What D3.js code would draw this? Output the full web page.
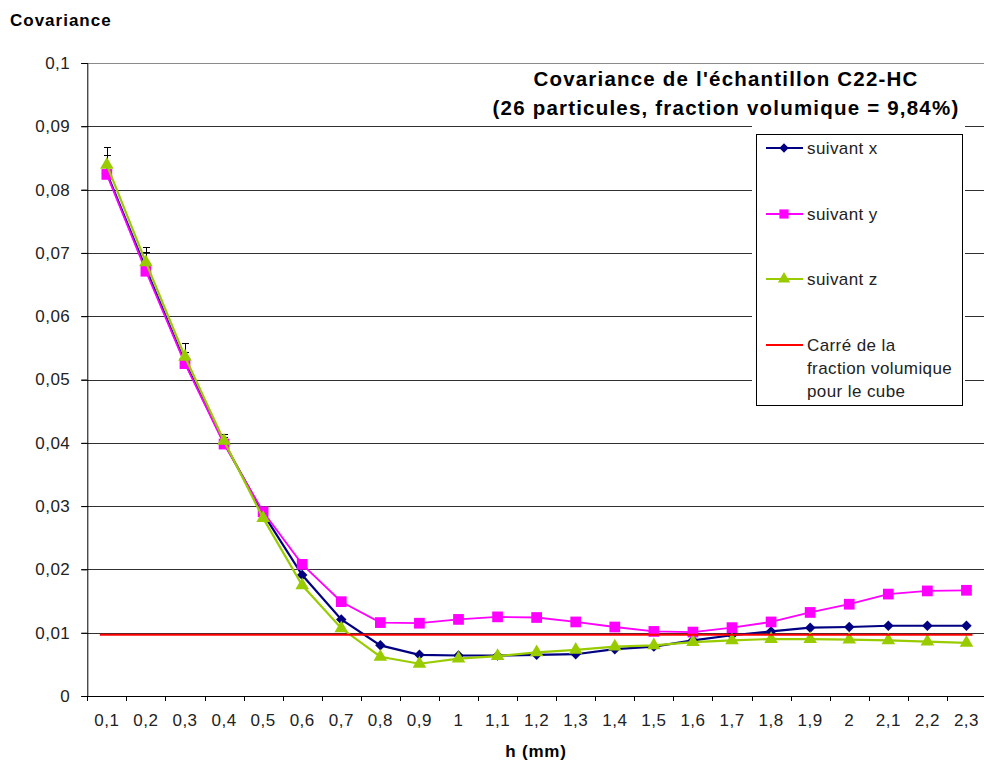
<!DOCTYPE html>
<html>
<head>
<meta charset="utf-8">
<script src="https://cdn.jsdelivr.net/npm/d3@7"></script>
<style>
  html, body { margin: 0; padding: 0; background: #fff; }
  svg { display: block; }
  text { font-family: "Liberation Sans", Arial, sans-serif; }
</style>
</head>
<body>
<svg id="chart" width="984" height="769"></svg>
<script>
// ---- Data ----
const categories = ["0,1","0,2","0,3","0,4","0,5","0,6","0,7","0,8","0,9","1","1,1","1,2","1,3","1,4","1,5","1,6","1,7","1,8","1,9","2","2,1","2,2","2,3"];
const suivantX = [0.0826,0.0675,0.0527,0.0400,0.0288,0.0191,0.0121,0.0080,0.0065,0.0064,0.0064,0.0065,0.0066,0.0074,0.0078,0.0088,0.0096,0.0102,0.0108,0.0109,0.0111,0.0111,0.0111];
const suivantY = [0.0824,0.0671,0.0525,0.0398,0.0291,0.0208,0.0149,0.0116,0.0115,0.0121,0.0125,0.0124,0.0117,0.0109,0.0102,0.0101,0.0108,0.0117,0.0132,0.0145,0.0161,0.0166,0.0167];
const suivantZ = [0.0839,0.0685,0.0536,0.0403,0.0281,0.0175,0.0107,0.0062,0.0051,0.0059,0.0063,0.0069,0.0073,0.0078,0.0080,0.0085,0.0088,0.0090,0.0090,0.0089,0.0088,0.0086,0.0084];
const errX = [0.0028,0.0026,0.0017,0.0009,0,0,0,0,0,0,0,0,0,0,0,0,0,0,0,0,0,0,0];
const errZ = [0.0029,0.0025,0.0021,0.0011,0,0,0,0,0,0,0,0,0,0,0,0,0,0,0,0,0,0,0];
const carreFraction = 0.00968; // (9,84 %)^2
const yTicks = [0,0.01,0.02,0.03,0.04,0.05,0.06,0.07,0.08,0.09,0.1];
const yTickLabels = ["0","0,01","0,02","0,03","0,04","0,05","0,06","0,07","0,08","0,09","0,1"];
const legendLabels = ["suivant x","suivant y","suivant z",["Carré de la","fraction volumique","pour le cube"]];
const titleLines = ["Covariance de l'échantillon C22-HC","(26 particules, fraction volumique = 9,84%)"];

(function () {
// ---- Layout ----
const svg = d3.select("#chart");
const pLeft = 87.3, pRight = 986, pTop = 63, pBottom = 696;

const x = d3.scaleBand().domain(categories).range([pLeft, pRight]).padding(0);
const cx = c => x(c) + x.bandwidth() / 2;
const y = d3.scaleLinear().domain([0, 0.1]).range([pBottom, pTop]);

// gridlines
svg.append("g").selectAll("line").data(yTicks.filter(d => d > 0)).join("line")
  .attr("x1", pLeft - 6).attr("x2", 984)
  .attr("y1", d => Math.round(y(d)) + 0.5).attr("y2", d => Math.round(y(d)) + 0.5)
  .attr("stroke", d => d === 0.1 ? "#8a8a8a" : "#303030").attr("stroke-width", 1);

// y axis
const yAxis = d3.axisLeft(y).tickValues(yTicks).tickSize(6)
  .tickFormat((d, i) => yTickLabels[i]);
const gy = svg.append("g").attr("transform", `translate(${pLeft},0)`).call(yAxis);
gy.select(".domain").attr("stroke", "#000");
gy.selectAll(".tick line").attr("stroke", "#000");
gy.selectAll(".tick text").attr("x", -17).attr("font-size", 17).attr("fill", "#222")
  .attr("letter-spacing", 0.5).attr("font-family", "Liberation Sans, Arial, sans-serif");

// x axis: labels at centers, ticks at boundaries
const xAxis = d3.axisBottom(x).tickSize(0);
const gx = svg.append("g").attr("transform", `translate(0,${pBottom})`).call(xAxis);
gx.select(".domain").remove();
gx.selectAll(".tick text").attr("y", 18).attr("font-size", 17).attr("fill", "#222")
  .attr("letter-spacing", 0.5).attr("font-family", "Liberation Sans, Arial, sans-serif");
const edges = categories.map(c => x(c)).concat([x.range()[1]]);
svg.append("g").selectAll("line").data(edges).join("line")
  .attr("x1", d => Math.round(d) + 0.5).attr("x2", d => Math.round(d) + 0.5)
  .attr("y1", pBottom).attr("y2", pBottom + 5).attr("stroke", "#000");
svg.append("line").attr("x1", pLeft).attr("x2", 984)
  .attr("y1", pBottom + 0.5).attr("y2", pBottom + 0.5).attr("stroke", "#000");

// legend background (white, hides gridlines)
svg.append("rect").attr("x", 752).attr("y", 124).attr("width", 213).attr("height", 285).attr("fill", "#fff");

// error bars (drawn beneath markers)
function errorBars(vals, errs) {
  const g = svg.append("g").attr("stroke", "#000").attr("stroke-width", 1);
  categories.forEach((c, i) => {
    if (!errs[i]) return;
    const xx = Math.round(cx(c)) + 0.5;
    const y0 = y(vals[i]), y1 = Math.round(y(vals[i] + errs[i])) + 0.5;
    g.append("line").attr("x1", xx).attr("x2", xx).attr("y1", y0).attr("y2", y1);
    g.append("line").attr("x1", xx - 3.5).attr("x2", xx + 3.5).attr("y1", y1).attr("y2", y1);
  });
}
errorBars(suivantX, errX);
errorBars(suivantZ, errZ);

const line = d3.line().x((d, i) => cx(categories[i])).y(d => y(d));

const series = [
  { vals: suivantX, color: "#000080", width: 2.2, sym: d3.symbolDiamond2, size: 70 },
  { vals: suivantY, color: "#FF00FF", width: 1.8, sym: d3.symbolSquare, size: 115 },
  { vals: suivantZ, color: "#99CC00", width: 2.2, sym: d3.symbolTriangle, size: 80 }
];
series.forEach(s => {
  svg.append("path").datum(s.vals).attr("d", line)
    .attr("fill", "none").attr("stroke", s.color).attr("stroke-width", s.width);
  svg.append("g").selectAll("path").data(s.vals).join("path")
    .attr("transform", (d, i) => `translate(${cx(categories[i])},${y(d)})`)
    .attr("d", d3.symbol().type(s.sym).size(s.size))
    .attr("fill", s.color);
});

// red reference line
svg.append("line")
  .attr("x1", cx(categories[0]) - 7).attr("x2", cx(categories[categories.length - 1]) + 6)
  .attr("y1", y(carreFraction)).attr("y2", y(carreFraction))
  .attr("stroke", "#FF0000").attr("stroke-width", 2);

// legend
svg.append("rect").attr("x", 756.5).attr("y", 134.5).attr("width", 206).attr("height", 271)
  .attr("fill", "none").attr("stroke", "#000").attr("stroke-width", 1);
const legY = [148, 214, 279, 345];
const legItems = [
  { color: "#000080", sym: d3.symbolDiamond2, size: 55 },
  { color: "#FF00FF", sym: d3.symbolSquare, size: 85 },
  { color: "#99CC00", sym: d3.symbolTriangle, size: 65 },
  { color: "#FF0000", sym: null }
];
legItems.forEach((it, i) => {
  const g = svg.append("g");
  g.append("line").attr("x1", 766).attr("x2", 803).attr("y1", legY[i]).attr("y2", legY[i])
    .attr("stroke", it.color).attr("stroke-width", 2);
  if (it.sym) {
    g.append("path").attr("transform", `translate(784,${legY[i]})`)
      .attr("d", d3.symbol().type(it.sym).size(it.size)).attr("fill", it.color);
  }
  const lab = legendLabels[i];
  const lines = Array.isArray(lab) ? lab : [lab];
  const t = g.append("text").attr("x", 807).attr("y", legY[i] + 6)
    .attr("font-size", 17).attr("fill", "#222").attr("letter-spacing", 0.4);
  lines.forEach((l, k) => t.append("tspan").attr("x", 807).attr("dy", k === 0 ? 0 : 23).text(l));
});

// titles
svg.append("text").attr("x", 10).attr("y", 26).attr("font-size", 17).attr("font-weight", "bold")
  .attr("letter-spacing", 1).attr("fill", "#000").text("Covariance");
titleLines.forEach((t, i) => {
  svg.append("text").attr("x", 726).attr("y", 86 + i * 29).attr("text-anchor", "middle")
    .attr("font-size", 20.5).attr("font-weight", "bold").attr("letter-spacing", 1.2)
    .attr("fill", "#000").text(t);
});
svg.append("text").attr("x", 536).attr("y", 757).attr("text-anchor", "middle")
  .attr("font-size", 17).attr("font-weight", "bold").attr("letter-spacing", 0.8)
  .attr("fill", "#000").text("h (mm)");
})();
</script>
</body>
</html>
